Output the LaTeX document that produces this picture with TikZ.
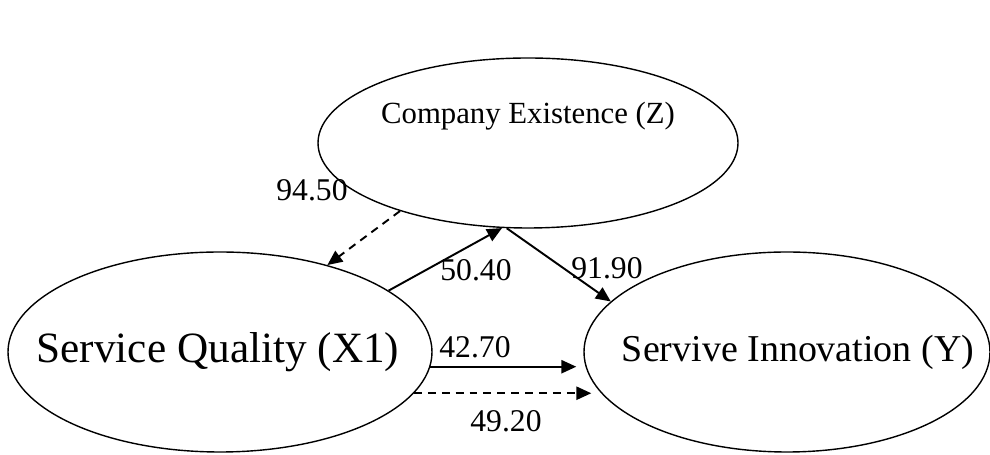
\documentclass[tikz,border=0pt]{standalone}
\usepackage{fontspec}
\setmainfont{Liberation Serif}
\usetikzlibrary{shapes.geometric, arrows.meta}
\tikzstyle{latent} = [ellipse, draw=black, line width=0.8pt, inner sep=0pt]
\tikzstyle{arrow} = [line width=1.1pt,-{Triangle[length=8.5pt,width=7.5pt]}]
\tikzstyle{dasharrow} = [arrow, dash pattern=on 4.5pt off 3.4pt]
\tikzstyle{coef} = [font=\fontsize{18}{20}\selectfont, inner sep=0pt]

\begin{document}
\begin{tikzpicture}
        \useasboundingbox (0,0) rectangle (19.8,9.1);
        \node (Z) [latent, minimum width=8.4cm, minimum height=3.4cm] at (10.56,6.24) {};
        \node (X1) [latent, minimum width=8.48cm, minimum height=4cm] at (4.40,2.06) {};
        \node (Y) [latent, minimum width=8.12cm, minimum height=4cm] at (15.74,2.06) {};
        \node (Ztext) [font=\fontsize{17.5}{20}\selectfont] at ([yshift=0.54cm]Z.center) {Company Existence (Z)};
        \node (X1text) [font=\fontsize{24.6}{28}\selectfont] at ([xshift=-0.04cm]X1.center) {Service Quality (X1)};
        \node (Ytext) [font=\fontsize{21.6}{26}\selectfont] at ([xshift=0.22cm]Y.center) {Servive Innovation (Y)};

        \draw [dasharrow] (Z.208) -- (X1.39);
        \draw [arrow] (X1.20) -- (Z.253);
        \draw [arrow] (Z.256) -- (Y.164);
        \draw [arrow] (X1.-4) -- ([xshift=-0.14cm]X1.-4 -| Y.west);
        \draw [dasharrow] (X1.-12) -- ([xshift=0.16cm]X1.-12 -| Y.west);

        \node (c1) [coef] at (6.24,5.30) {94.50};
        \node (c2) [coef] at (9.52,3.70) {50.40};
        \node (c3) [coef] at (12.14,3.74) {91.90};
        \node (c4) [coef] at (9.50,2.16) {42.70};
        \node (c5) [coef] at (10.12,0.68) {49.20};
    \end{tikzpicture}
\end{document}
